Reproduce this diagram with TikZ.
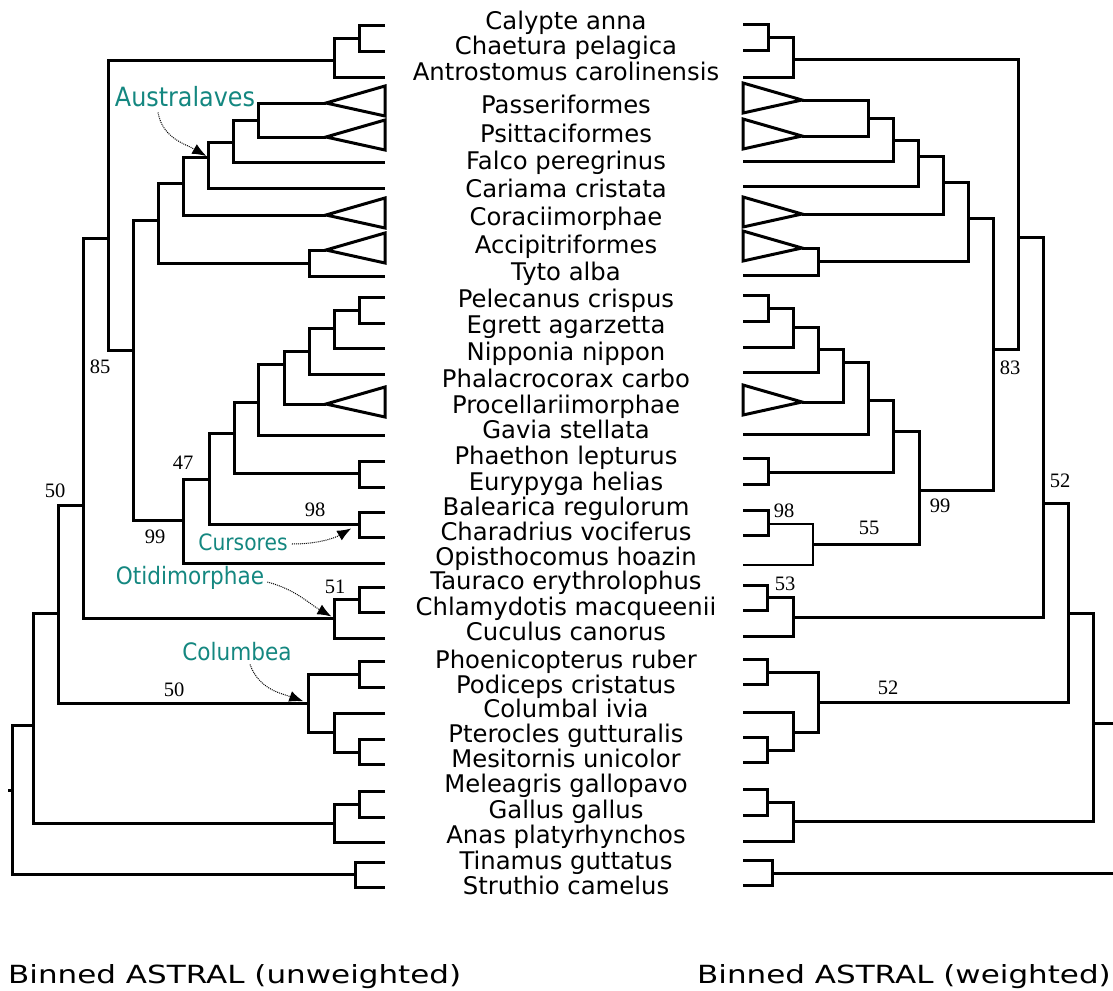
\documentclass[tikz,border=0pt]{standalone}
\usepackage{fontspec}
\setmainfont{DejaVu Sans}
\newfontfamily\supportfont{Liberation Serif}
\newfontfamily\cladefont[FakeStretch=0.9]{DejaVu Sans}
\newfontfamily\titlefont[FakeStretch=1.24]{DejaVu Sans}
\usetikzlibrary{arrows.meta}
\definecolor{cladeteal}{RGB}{20,135,128}

\begin{document}
\begin{tikzpicture}[x=1pt, y=-1pt,
	branch/.style={line width=3pt},
	thinbranch/.style={line width=1.3pt},
	taxon/.style={anchor=base, inner sep=0pt, font=\fontsize{24.3}{24}\selectfont},
	support/.style={inner sep=0pt, font=\supportfont\fontsize{20.5}{20}\selectfont},
	clade/.style={inner sep=0pt, text=cladeteal, font=\cladefont\fontsize{24}{24}\selectfont},
	pointer/.style={densely dotted, line width=1pt, -{Latex[length=14pt,width=11pt]}},
	treetitle/.style={inner sep=0pt, font=\titlefont\fontsize{25}{25}\selectfont}]

	\useasboundingbox (0,0) rectangle (1113,990);

	%% The taxa, in the middle
	\foreach \y/\name [count=\i] in {30/Calypte anna, 55/Chaetura pelagica, 81/Antrostomus carolinensis,
		113/Passeriformes, 142/Psittaciformes, 169/Falco peregrinus, 197/Cariama cristata,
		225/Coraciimorphae, 253/Accipitriformes, 280/Tyto alba, 307/Pelecanus crispus,
		333/Egrett agarzetta, 360/Nipponia nippon, 387/Phalacrocorax carbo, 413/Procellariimorphae,
		438/Gavia stellata, 464/Phaethon lepturus, 490/Eurypyga helias, 515/Balearica regulorum,
		540/Charadrius vociferus, 565/Opisthocomus hoazin, 589/Tauraco erythrolophus,
		615/Chlamydotis macqueenii, 640/Cuculus canorus, 668/Phoenicopterus ruber,
		693/Podiceps cristatus, 717/Columbal ivia, 742/Pterocles gutturalis, 767/Mesitornis unicolor,
		792/Meleagris gallopavo, 818/Gallus gallus, 843/Anas platyrhynchos, 869/Tinamus guttatus,
		894/Struthio camelus}
		\node[taxon] (t\i) at (566,\y) {\name};

	%% The tips of the left tree
	\foreach \y [count=\i] in {26,52,77,103,137,162,188,215,250,276,297,323,348,374,404,435,461,
		487,512,537,563,587,612,638,661,687,713,739,764,791,817,842,862,887}
		\coordinate (l\i) at (385,\y);

	%% The tips of the right tree
	\foreach \y [count=\i] in {25,51,77,100,136,161,186,214,248,275,295,321,347,372,402,434,458,
		484,510,535,565,585,610,636,659,684,712,737,762,789,815,841,860,885}
		\coordinate (r\i) at (743,\y);

	%% The collapsed clades
	\foreach \i in {4,5,8,9,15} {
		\path (l\i) ++(-59,0) coordinate (la\i);
		\draw[branch] (l\i) ++(0,-17) -- ++(0,30) -- (la\i) -- cycle;
		\path (r\i) ++(59,0) coordinate (ra\i);
		\draw[branch] (r\i) ++(0,-17) -- ++(0,30) -- (ra\i) -- cycle;
	}

	%% The left tree (unweighted)
	\begin{scope}[branch]
		\coordinate (lA1) at (359,39);
		\coordinate (lA2) at (334,61);
		\coordinate (lP1) at (258,120);
		\coordinate (lP2) at (233,142);
		\coordinate (lAus) at (208,157);
		\coordinate (lT1) at (183,183);
		\coordinate (lAT) at (309,263);
		\coordinate (lT2) at (158,220);
		\coordinate (lW1) at (359,310);
		\coordinate (lW2) at (334,328);
		\coordinate (lW3) at (309,351);
		\coordinate (lW4) at (284,364);
		\coordinate (lW5) at (258,402);
		\coordinate (lPE) at (359,473);
		\coordinate (lW6) at (234,433);
		\coordinate (lCur) at (359,524);
		\coordinate (lW7) at (209,479);
		\coordinate (lW8) at (183,520);
		\coordinate (lL1) at (133,350);
		\coordinate (lL2) at (108,238);
		\coordinate (lO1) at (359,599);
		\coordinate (lOti) at (334,618);
		\coordinate (lL3) at (83,505);
		\coordinate (lC1) at (359,674);
		\coordinate (lC2) at (359,752);
		\coordinate (lC3) at (334,732);
		\coordinate (lCol) at (308,703);
		\coordinate (lL4) at (58,613);
		\coordinate (lG1) at (359,804);
		\coordinate (lGal) at (334,823);
		\coordinate (lL5) at (33,725);
		\coordinate (lPal) at (355,874);
		\coordinate (lRoot) at (12,790);
		\coordinate (lStub) at (8,790);

		\draw (l1) -| (lA1) |- (l2);
		\draw (lA1) -| (lA2) |- (l3);
		\draw (la4) -| (lP1) |- (la5);
		\draw (lP1) -| (lP2) |- (l6);
		\draw (lP2) -| (lAus) |- (l7);
		\draw (lAus) -| (lT1) |- (la8);
		\draw (la9) -| (lAT) |- (l10);
		\draw (lT1) -| (lT2) |- (lAT);
		\draw (l11) -| (lW1) |- (l12);
		\draw (lW1) -| (lW2) |- (l13);
		\draw (lW2) -| (lW3) |- (l14);
		\draw (lW3) -| (lW4) |- (la15);
		\draw (lW4) -| (lW5) |- (l16);
		\draw (l17) -| (lPE) |- (l18);
		\draw (lW5) -| (lW6) |- (lPE);
		\draw (l19) -| (lCur) |- (l20);
		\draw (lW6) -| (lW7) |- (lCur);
		\draw (lW7) -| (lW8) |- (l21);
		\draw (lT2) -| (lL1) |- (lW8);
		\draw (lA2) -| (lL2) |- (lL1);
		\draw (l22) -| (lO1) |- (l23);
		\draw (lO1) -| (lOti) |- (l24);
		\draw (lL2) -| (lL3) |- (lOti);
		\draw (l25) -| (lC1) |- (l26);
		\draw (l28) -| (lC2) |- (l29);
		\draw (l27) -| (lC3) |- (lC2);
		\draw (lC1) -| (lCol) |- (lC3);
		\draw (lL3) -| (lL4) |- (lCol);
		\draw (l30) -| (lG1) |- (l31);
		\draw (lG1) -| (lGal) |- (l32);
		\draw (lL4) -| (lL5) |- (lGal);
		\draw (l33) -| (lPal) |- (l34);
		\draw (lL5) -| (lRoot) |- (lPal);
		\draw (lStub) -- (lRoot);
	\end{scope}

	%% The right tree (weighted)
	\begin{scope}[branch]
		\coordinate (rA1) at (768,38);
		\coordinate (rA2) at (793,60);
		\coordinate (rP1) at (868,118);
		\coordinate (rP2) at (893,140);
		\coordinate (rAus) at (918,156);
		\coordinate (rT1) at (943,182);
		\coordinate (rAT) at (818,261);
		\coordinate (rT2) at (968,218);
		\coordinate (rW1) at (768,308);
		\coordinate (rW2) at (793,327);
		\coordinate (rW3) at (818,349);
		\coordinate (rW4) at (843,362);
		\coordinate (rW5) at (868,400);
		\coordinate (rPE) at (768,472);
		\coordinate (rW6) at (893,431);
		\coordinate (rCur) at (768,524);
		\coordinate (rCO) at (813,544);
		\coordinate (rW7) at (919,490);
		\coordinate (rL1) at (993,349);
		\coordinate (rL2) at (1018,237);
		\coordinate (rO1) at (767,597);
		\coordinate (rOti) at (793,617);
		\coordinate (rL3) at (1043,503);
		\coordinate (rC1) at (767,672);
		\coordinate (rC2) at (767,750);
		\coordinate (rC3) at (793,732);
		\coordinate (rCol) at (818,702);
		\coordinate (rL4) at (1068,613);
		\coordinate (rG1) at (767,802);
		\coordinate (rGal) at (793,821);
		\coordinate (rL5) at (1093,723);
		\coordinate (rPal) at (772,873);
		\coordinate (rEnd1) at (1113,723);
		\coordinate (rEnd2) at (1113,873);

		\draw (r1) -| (rA1) |- (r2);
		\draw (rA1) -| (rA2) |- (r3);
		\draw (ra4) -| (rP1) |- (ra5);
		\draw (rP1) -| (rP2) |- (r6);
		\draw (rP2) -| (rAus) |- (r7);
		\draw (rAus) -| (rT1) |- (ra8);
		\draw (ra9) -| (rAT) |- (r10);
		\draw (rT1) -| (rT2) |- (rAT);
		\draw (r11) -| (rW1) |- (r12);
		\draw (rW1) -| (rW2) |- (r13);
		\draw (rW2) -| (rW3) |- (r14);
		\draw (rW3) -| (rW4) |- (ra15);
		\draw (rW4) -| (rW5) |- (r16);
		\draw (r17) -| (rPE) |- (r18);
		\draw (rW5) -| (rW6) |- (rPE);
		\draw (r19) -| (rCur) |- (r20);
		\draw[thinbranch] (rCur) -| (rCO) |- (r21);
		\draw (rW6) -| (rW7) |- (rCO);
		\draw (rT2) -| (rL1) |- (rW7);
		\draw (rA2) -| (rL2) |- (rL1);
		\draw (r22) -| (rO1) |- (r23);
		\draw (rO1) -| (rOti) |- (r24);
		\draw (rL2) -| (rL3) |- (rOti);
		\draw (r25) -| (rC1) |- (r26);
		\draw (r28) -| (rC2) |- (r29);
		\draw (r27) -| (rC3) |- (rC2);
		\draw (rC1) -| (rCol) |- (rC3);
		\draw (rL3) -| (rL4) |- (rCol);
		\draw (r30) -| (rG1) |- (r31);
		\draw (rG1) -| (rGal) |- (r32);
		\draw (rL4) -| (rL5) |- (rGal);
		\draw (r33) -| (rPal) |- (r34);
		\draw (rL5) -- (rEnd1);
		\draw (rPal) -- (rEnd2);
	\end{scope}

	%% Support values
	\node[support] (sl85) at (100,367) {85};
	\node[support] (sl50a) at (55,491) {50};
	\node[support] (sl47) at (183,463) {47};
	\node[support] (sl99) at (155,537) {99};
	\node[support] (sl98) at (315,510) {98};
	\node[support] (sl51) at (335,587) {51};
	\node[support] (sl50b) at (174,690) {50};
	\node[support] (sr83) at (1010,368) {83};
	\node[support] (sr52a) at (1060,481) {52};
	\node[support] (sr99) at (940,506) {99};
	\node[support] (sr55) at (869,528) {55};
	\node[support] (sr98) at (784,511) {98};
	\node[support] (sr53) at (785,584) {53};
	\node[support] (sr52b) at (888,688) {52};

	%% Clade names, with their pointers
	\node[clade, font=\cladefont\fontsize{26.5}{26}\selectfont] (cAus) at (185,97) {Australaves};
	\node[clade, font=\cladefont\fontsize{22.5}{22}\selectfont] (cCur) at (243,542) {Cursores};
	\node[clade] (cOti) at (190,578) {Otidimorphae};
	\node[clade] (cCol) at (237,652) {Columbea};
	\draw[pointer, shorten >=2pt] ([xshift=-27pt,yshift=-5pt]cAus.south) to[out=-80,in=150] (lAus);
	\draw[pointer, shorten >=9pt] ([xshift=4pt,yshift=-2pt]cCur.east) to[out=0,in=210] (lCur);
	\draw[pointer, shorten >=3pt] ([xshift=3pt,yshift=-4pt]cOti.east) to[out=-15,in=150] (lOti);
	\draw[pointer, shorten >=5pt] ([xshift=13pt,yshift=-3pt]cCol.south) to[out=-70,in=160] (lCol);

	%% Titles of the two trees
	\node[treetitle, anchor=base west] (tUnw) at (8,983) {Binned ASTRAL (unweighted)};
	\node[treetitle, anchor=base east] (tWei) at (1111,983) {Binned ASTRAL (weighted)};

\end{tikzpicture}
\end{document}
